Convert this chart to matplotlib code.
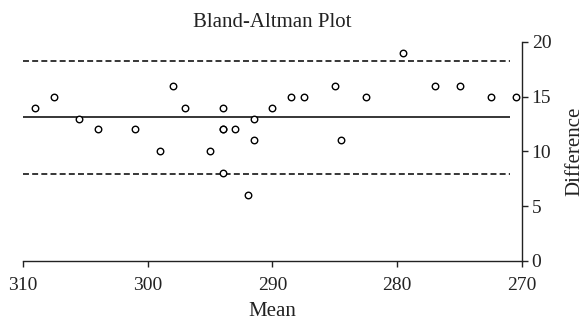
import matplotlib.pyplot as plt

plt.rcParams['font.family'] = ['Liberation Serif', 'DejaVu Serif']

# Mean of the two methods (x) and their difference (y)
means = [309.0, 307.5, 305.5, 304.0, 301.0, 299.0, 298.0, 297.0, 295.0, 294.0,
         294.0, 294.0, 293.0, 291.5, 291.5, 290.0, 288.5, 287.5, 285.0, 284.5,
         282.5, 279.5, 277.0, 275.0, 272.5, 270.5, 294.0, 292.0]
diffs = [14, 15, 13, 12, 12, 10, 16, 14, 10, 14,
         12, 12, 12, 13, 11, 14, 15, 15, 16, 11,
         15, 19, 16, 16, 15, 15, 8, 6]

mean_diff = 13.1
upper_loa = 18.3
lower_loa = 7.9

fig = plt.figure(figsize=(5.85, 3.2), dpi=100)
ax = fig.add_axes([0.0393, 0.185, 0.853, 0.684])

ax.scatter(means, diffs, s=22, facecolors='white', edgecolors='black',
           linewidths=1.0, zorder=3)

# mean line and limits of agreement
ax.hlines(mean_diff, 310, 271, colors='black', linewidth=1.1)
ax.hlines([upper_loa, lower_loa], 310, 271, colors='black', linewidth=1.1,
          linestyles=(0, (3.9, 2.1)))

ax.set_xlim(310, 270)
ax.set_ylim(0, 20)
ax.set_xticks([310, 300, 290, 280, 270])
ax.set_yticks([0, 5, 10, 15, 20])

ax.yaxis.tick_right()
ax.yaxis.set_label_position('right')
for side in ['top', 'left']:
    ax.spines[side].set_visible(False)
for side in ['bottom', 'right']:
    ax.spines[side].set_linewidth(1.0)
    ax.spines[side].set_color('#222222')

ax.tick_params(axis='both', direction='out', length=4, width=1.0,
               labelsize=14, colors='#222222')
ax.tick_params(axis='x', pad=7.5)
ax.tick_params(axis='y', pad=3)
ax.set_xlabel('Mean', fontsize=15, color='#222222', labelpad=6)
ax.set_ylabel('Difference', fontsize=15, color='#222222', labelpad=10)
ax.set_title('Bland-Altman Plot', fontsize=15, color='#222222', pad=11)

fig.savefig('out.png', dpi=100)
